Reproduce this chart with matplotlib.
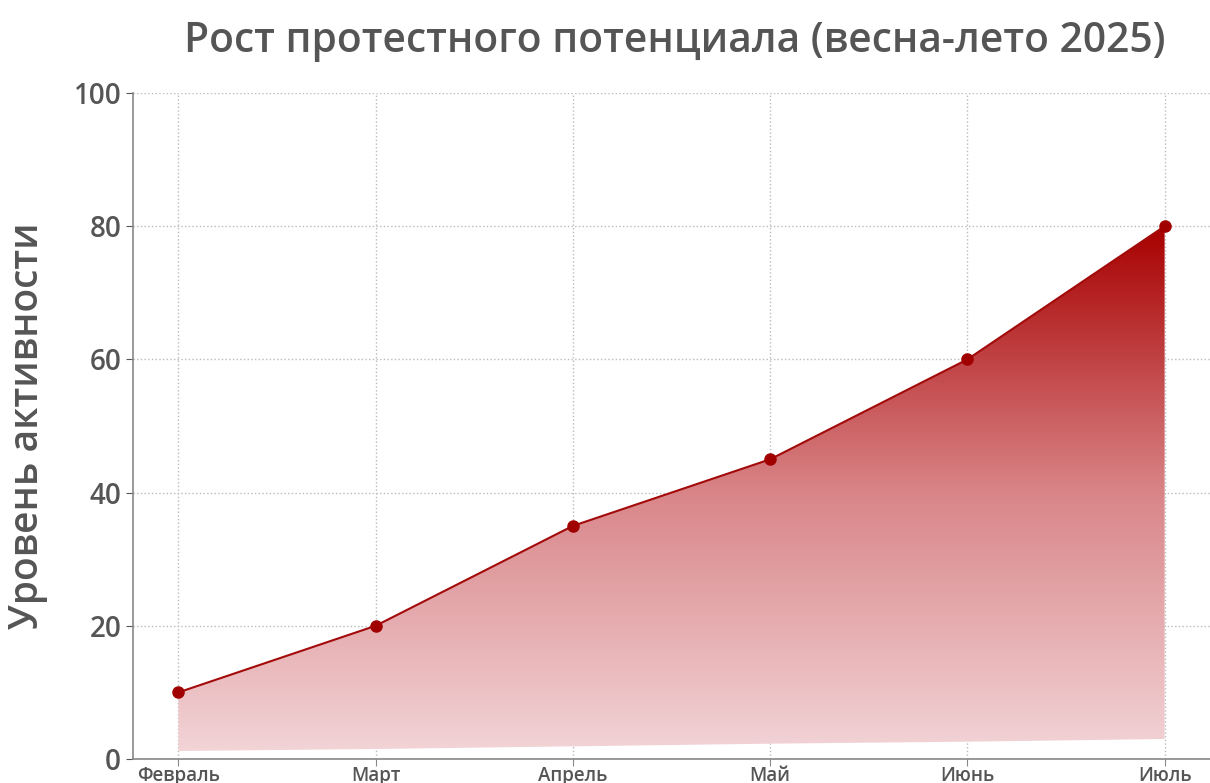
import matplotlib
matplotlib.use("Agg")
import matplotlib.pyplot as plt
import numpy as np
from matplotlib.colors import LinearSegmentedColormap

# данные
months = ["Февраль", "Март", "Апрель", "Май", "Июнь", "Июль"]
activity = [10, 20, 35, 45, 60, 80]
fill_base = [1.2, 1.5, 1.9, 2.3, 2.6, 3.0]  # нижний край заливки (наклонный на картинке)

plt.rcParams['font.family'] = ['Open Sans', 'DejaVu Sans']
grey = "#555555"

fig = plt.figure(figsize=(12.1, 7.83), dpi=100)
ax = fig.add_axes([133 / 1210, 24 / 783, 1 - 133 / 1210, 666 / 783])

x = np.arange(len(months))

# градиентная заливка под линией
cmap = LinearSegmentedColormap.from_list("grad", ["#f3d6d9", "#d98588", "#a80000"])
poly = ax.fill_between(x, fill_base, activity, color="none", lw=0)
img = ax.imshow(np.linspace(0, 1, 256).reshape(-1, 1), cmap=cmap, aspect="auto",
                origin="lower", extent=[x[0], x[-1], 0, max(activity)], zorder=1)
path = poly.get_paths()[0]
img.set_clip_path(path, transform=ax.transData)

ax.plot(x, activity, color="#a30a0a", lw=1.5, marker="o", markersize=8,
        markerfacecolor="#a00000", markeredgecolor="#a00000", zorder=3)

ax.set_xlim(-0.23, 5.23)
ax.set_ylim(0, 100)
ax.set_xticks(x)
ax.set_xticklabels(months, fontsize=13.5, color=grey, fontweight="semibold")
ax.set_yticks([0, 20, 40, 60, 80, 100])
ax.tick_params(axis="y", labelsize=20, colors=grey, length=5)
for lbl in ax.get_yticklabels():
    lbl.set_fontweight("semibold")
ax.tick_params(axis="x", colors="#888888", length=5, pad=0)
for lbl in ax.get_xticklabels():
    lbl.set_color(grey)

ax.grid(True, linestyle=":", color="#bbbbbb", lw=1)
ax.set_axisbelow(True)
for s in ["top", "right"]:
    ax.spines[s].set_visible(False)
for s in ["left", "bottom"]:
    ax.spines[s].set_color("#888888")
    ax.spines[s].set_linewidth(1.2)

ax.set_ylabel("Уровень активности", fontsize=28, color=grey, labelpad=18,
              fontweight="semibold")
fig.text(0.558, 0.948, "Рост протестного потенциала (весна-лето 2025)",
         ha="center", va="center", fontsize=29.3, color=grey, fontweight="semibold")

fig.savefig("out.png", dpi=100)
